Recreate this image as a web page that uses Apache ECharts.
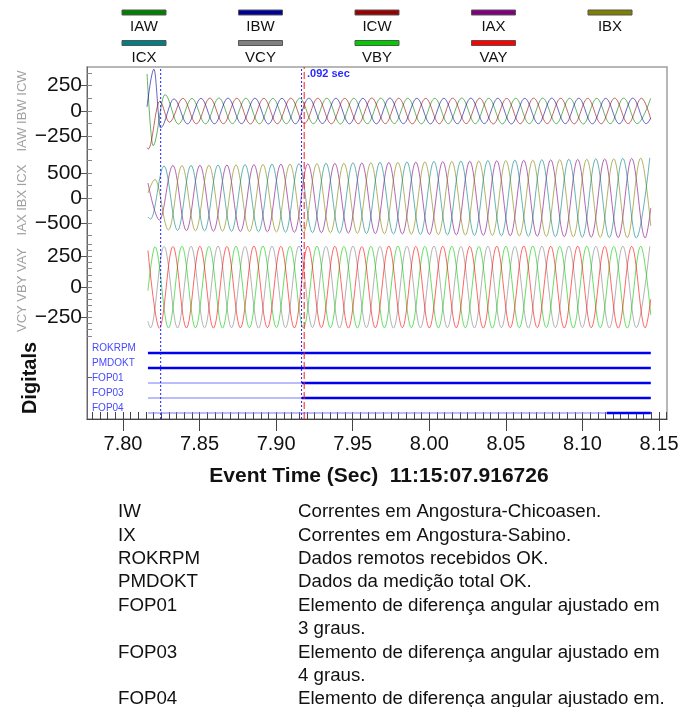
<!DOCTYPE html>
<html>
<head>
<meta charset="utf-8">
<script src="https://cdn.jsdelivr.net/npm/echarts@6/dist/echarts.min.js"></script>
<style>
html, body { margin: 0; padding: 0; background: #fff; }
#chart { width: 691px; height: 707px; }
</style>
</head>
<body>
<div id="chart"></div>
<script>
// time axis (sec)
var T_MIN = 7.7765, T_MAX = 8.1552;
var T_START = 7.8163, T_END = 8.1446;
var HALF = 0.00881;               // half cycle, time between two extremes
var xTicks = [7.80, 7.85, 7.90, 7.95, 8.00, 8.05, 8.10, 8.15];
var cursorTimes = [7.8246, 7.9166];
var eventTime = 7.9183;

var legendNames = ['IAW', 'IBW', 'ICW', 'IAX', 'IBX', 'ICX', 'VCY', 'VBY', 'VAY'];
var legendColors = ['#008000', '#000099', '#990000', '#800080', '#808000', '#008080', '#808080', '#00cc00', '#ff0000'];

var panelNames = ['IAW IBW ICW', 'IAX IBX ICX', 'VCY VBY VAY'];
var panelLabels = [[-250, 0, 250], [-500, 0, 500], [-250, 0, 250]];
var panelMinorStep = [125, 250, 50];

// IAW / IBW / ICW  (Angostura-Chicoasen)
var iawStart = [[7.8157, 363], [7.8196, -340]];
var iawT0 = 7.8274;
var iawExt = [160, -128, 122, -125, 127, -124, 125, -126, 123, -125,
  126, -124, 125, -127, 124, -125, 126, -123, 125, -126,
  124, -125, 127, -124, 125, -126, 124, -125, 126, -124,
  125, -127, 124, -125, 126, -124, 125];

var ibwStart = [[7.8157, 40], [7.8202, 410]];
var ibwT0 = 7.8245;
var ibwExt = [-165, 118, -126, 124, -125, 126, -124, 125, -127, 124,
  -125, 126, -123, 125, -126, 124, -125, 127, -124, 125,
  -126, 124, -125, 126, -124, 125, -127, 124, -125, 126,
  -124, 125, -126, 124, -125, 126, -125];
var ibwEnd = -70;

var icwStart = [[7.8157, -360], [7.8165, -373], [7.8240, 95]];
var icwT0 = 7.8303;
var icwExt = [-110, 124, -125, 126, -124, 125, -127, 124, -125, 126,
  -123, 125, -126, 124, -125, 127, -124, 125, -126, 124,
  -125, 126, -124, 125, -127, 124, -125, 126, -124, 125,
  -126, 124, -125, 126, -124, 125];
var icwEnd = -80;

// IAX / IBX / ICX  (Angostura-Sabino)
var iaxStart = [[7.8163, 300]];
var iaxT0 = 7.8238;
var iaxExt = [-440, 650, -652, 655, -662, 660, -670, 668, -677, 676,
  -685, 684, -694, 692, -702, 701, -711, 710, -720, 719,
  -729, 728, -738, 737, -747, 746, -756, 755, -765, 764,
  -774, 773, -783, 782, -792, 791, -800];
var iaxEnd = -200;

var ibxStart = [[7.8163, 100]];
var ibxT0 = 7.8209;
var ibxExt = [370, -640, 648, -656, 655, -664, 662, -671, 670, -679,
  678, -688, 687, -696, 695, -705, 704, -714, 713, -723,
  722, -732, 731, -741, 740, -750, 749, -759, 758, -768,
  767, -777, 776, -786, 785, -795, 800];
var ibxEnd = -560;

var icxStart = [[7.8163, -380]];
var icxT0 = 7.8180;
var icxExt = [-420, 640, -648, 652, -657, 660, -666, 668, -675, 677,
  -684, 686, -693, 695, -702, 704, -711, 713, -720, 722,
  -729, 731, -738, 740, -747, 749, -756, 758, -765, 767,
  -774, 776, -783, 785, -792, 794, -801, 805];

// VCY / VBY / VAY
var vcyStart = [[7.8163, -280]];
var vcyT0 = 7.8180;
var vcyExt = [-335, 333, -336, 334, -335, 336, -334, 333, -337, 335,
  -334, 336, -333, 334, -336, 335, -334, 333, -337, 334,
  -335, 336, -334, 333, -336, 335, -334, 333, -337, 335,
  -334, 336, -333, 334, -336, 335, -334, 333];

var vbyStart = [[7.8163, -30]];
var vbyT0 = 7.8209;
var vbyExt = [330, -336, 334, -335, 333, -337, 335, -334, 336, -333,
  334, -336, 335, -334, 333, -337, 334, -335, 336, -334,
  333, -336, 334, -335, 333, -337, 335, -334, 336, -333,
  334, -336, 335, -334, 333, -337, 334];
var vbyEnd = -230;

var vayStart = [[7.8163, 300]];
var vayT0 = 7.8238;
var vayExt = [-338, 332, -336, 334, -337, 333, -335, 336, -334, 333,
  -336, 335, -333, 334, -337, 332, -335, 336, -334, 333,
  -336, 334, -335, 333, -337, 335, -334, 336, -333, 334,
  -336, 335, -334, 333, -337, 334, -335];
var vayEnd = -100;

// digital channels: time span where the bit is set
var digitalNames = ['ROKRPM', 'PMDOKT', 'FOP01', 'FOP03', 'FOP04'];
var digitalOn = [[7.8163, 8.1446], [7.8163, 8.1446], [7.9168, 8.1446], [7.9168, 8.1446], [8.1159, 8.1446]];

var noteKeys = ['IW', 'IX', 'ROKRPM', 'PMDOKT', 'FOP01', 'FOP03', 'FOP04'];
var noteTexts = [
  'Correntes em Angostura-Chicoasen.',
  'Correntes em Angostura-Sabino.',
  'Dados remotos recebidos OK.',
  'Dados da medição total OK.',
  'Elemento de diferença angular ajustado em\n3 graus.',
  'Elemento de diferença angular ajustado em\n4 graus.',
  'Elemento de diferença angular ajustado em.'
];

// ---------------------------------------------------------------
var FONT = '"Liberation Sans", Arial, sans-serif';
var plotLeft = 87, plotRight = 24;
var bands = [[67, 150], [150, 243], [243, 340], [340, 419]];
var ranges = [[-382.4, 431.4], [-900, 960], [-434.4, 360.7], [-0.4, 4.867]];

function wave(start, t0, ext, end) {
  var pts = start.slice();
  ext.forEach(function (v, k) { pts.push([t0 + k * HALF, v]); });
  if (end != null) pts.push([T_END, end]);
  return pts;
}

var waves = [
  { name: 'IAW', panel: 0, data: wave(iawStart, iawT0, iawExt) },
  { name: 'IBW', panel: 0, data: wave(ibwStart, ibwT0, ibwExt, ibwEnd) },
  { name: 'ICW', panel: 0, data: wave(icwStart, icwT0, icwExt, icwEnd) },
  { name: 'IAX', panel: 1, data: wave(iaxStart, iaxT0, iaxExt, iaxEnd) },
  { name: 'IBX', panel: 1, data: wave(ibxStart, ibxT0, ibxExt, ibxEnd) },
  { name: 'ICX', panel: 1, data: wave(icxStart, icxT0, icxExt) },
  { name: 'VCY', panel: 2, data: wave(vcyStart, vcyT0, vcyExt) },
  { name: 'VBY', panel: 2, data: wave(vbyStart, vbyT0, vbyExt, vbyEnd) },
  { name: 'VAY', panel: 2, data: wave(vayStart, vayT0, vayExt, vayEnd) }
];

function steps(lo, hi, step) {
  var out = [];
  for (var v = Math.ceil(lo / step) * step; v <= hi + 1e-9; v += step) out.push(+v.toFixed(4));
  return out;
}

var grids = [], xAxes = [], yAxes = [], series = [];

bands.forEach(function (b) {
  grids.push({ left: plotLeft, right: plotRight, top: b[0], height: b[1] - b[0], outerBoundsMode: 'none' });
  xAxes.push({ type: 'value', gridIndex: grids.length - 1, min: T_MIN, max: T_MAX, show: false });
});
// frame grid carrying the time axis, the border and the cursors
grids.push({ left: plotLeft, right: plotRight, top: bands[0][0], height: bands[3][1] - bands[0][0],
  show: true, borderColor: '#a0a0a0', borderWidth: 1.5, outerBoundsMode: 'none' });

xAxes.push({
  type: 'value', gridIndex: 4, min: T_MIN, max: T_MAX, position: 'bottom',
  axisLine: { lineStyle: { color: '#444', width: 1 } },
  axisTick: { customValues: xTicks, length: 12, lineStyle: { color: '#444' } },
  axisLabel: { customValues: xTicks, formatter: function (v) { return v.toFixed(2); },
    fontSize: 20, fontFamily: FONT, color: '#111', margin: 15 },
  splitLine: { show: false }
});
xAxes.push({
  type: 'value', gridIndex: 4, min: T_MIN, max: T_MAX, position: 'bottom',
  axisLine: { show: false },
  axisTick: { customValues: steps(7.78, T_MAX, 0.005), inside: true, length: 7, lineStyle: { color: '#444' } },
  axisLabel: { show: false }, splitLine: { show: false }
});

[0, 1, 2].forEach(function (p) {
  var r = ranges[p];
  yAxes.push({
    type: 'value', gridIndex: p, min: r[0], max: r[1], position: 'left',
    axisLine: { show: false },
    axisTick: { customValues: panelLabels[p], length: 6, lineStyle: { color: '#555' } },
    axisLabel: { customValues: panelLabels[p], fontSize: 21, fontFamily: FONT, color: '#111', margin: 5,
      formatter: function (v) { return String(v).replace('-', '\u2212'); } },
    splitLine: { show: false }
  });
  yAxes.push({
    type: 'value', gridIndex: p, min: r[0], max: r[1], position: 'left',
    axisLine: { show: false },
    axisTick: { customValues: steps(r[0], r[1], panelMinorStep[p]), inside: true, length: 5, lineStyle: { color: '#888' } },
    axisLabel: { show: false }, splitLine: { show: false }
  });
});
yAxes.push({
  type: 'value', gridIndex: 3, min: ranges[3][0], max: ranges[3][1], position: 'left',
  axisLine: { show: false },
  axisTick: { customValues: [2.4], inside: true, length: 5, lineStyle: { color: '#666' } },
  axisLabel: { customValues: [0, 1, 2, 3, 4], inside: true, verticalAlign: 'bottom', margin: 5,
    fontSize: 10, fontFamily: FONT, color: '#4848ff',
    formatter: function (v) { return digitalNames[4 - Math.round(v)]; } },
  splitLine: { show: false }
});
yAxes.push({
  type: 'value', gridIndex: 4, min: 0, max: 1, position: 'left',
  axisLine: { show: true, lineStyle: { color: '#666', width: 1 } },
  axisTick: { show: false }, axisLabel: { show: false }, splitLine: { show: false }
});

waves.forEach(function (w) {
  var i = legendNames.indexOf(w.name);
  series.push({
    type: 'line', name: w.name, xAxisIndex: w.panel, yAxisIndex: w.panel * 2,
    data: w.data, symbol: 'none', showSymbol: false, smooth: 0.364, smoothMonotone: 'x',
    lineStyle: { color: legendColors[i], width: 1, opacity: 0.6 }, silent: true
  });
});

digitalNames.forEach(function (n, i) {
  var row = 4 - i;
  series.push({
    type: 'line', name: n + ' off', xAxisIndex: 3, yAxisIndex: 6,
    data: [[T_START, row], [T_END, row]], symbol: 'none',
    lineStyle: { color: '#7878ff', width: 1 }, silent: true
  });
  series.push({
    type: 'line', name: n, xAxisIndex: 3, yAxisIndex: 6,
    data: [[digitalOn[i][0], row], [digitalOn[i][1], row]], symbol: 'none',
    lineStyle: { color: '#0000f0', width: 2.5 }, silent: true
  });
});

// vertical cursors spanning the whole plot (frame grid, y from 0 to 1)
function cursorSeries(t, color, type) {
  return {
    type: 'line', xAxisIndex: 4, yAxisIndex: 7, data: [[t, 0], [t, 1]], symbol: 'none',
    silent: true, z: 5, lineStyle: { color: color, type: type, width: 1 }
  };
}
cursorTimes.forEach(function (t) { series.push(cursorSeries(t, '#2020ff', [2, 2])); });
series.push(cursorSeries(eventTime, '#ff1a1a', [7, 3]));

// legend, titles, notes
var graphic = [];
var legendX = [144, 260.5, 377, 493.5, 610];
legendNames.forEach(function (n, i) {
  var cx = legendX[i % 5], row = Math.floor(i / 5);
  graphic.push({ type: 'rect', shape: { x: cx - 22, y: 10 + row * 30.5, width: 44, height: 5 },
    style: { fill: legendColors[i], stroke: '#555', lineWidth: 1 } });
  graphic.push({ type: 'text', x: cx, y: 27 + row * 31,
    style: { text: n, fill: '#111', font: '15px ' + FONT, textAlign: 'center', textVerticalAlign: 'middle' } });
});
var panelCenters = [111, 200, 290];
panelNames.forEach(function (n, p) {
  graphic.push({ type: 'text', x: 22, y: panelCenters[p], rotation: Math.PI / 2,
    style: { text: n, fill: '#a0a0a0', font: '13px ' + FONT, textAlign: 'center', textVerticalAlign: 'middle' } });
});
graphic.push({ type: 'text', x: 30, y: 378, rotation: Math.PI / 2,
  style: { text: 'Digitals', fill: '#111', font: 'bold 20px ' + FONT, textAlign: 'center', textVerticalAlign: 'middle' } });
graphic.push({ type: 'text', x: 379, y: 476,
  style: { text: 'Event Time (Sec)  11:15:07.916726', fill: '#111', font: 'bold 21px ' + FONT,
    textAlign: 'center', textVerticalAlign: 'middle' } });
graphic.push({ type: 'text', x: 307, y: 74, z: 10,
  style: { text: (cursorTimes[1] - cursorTimes[0]).toFixed(3).replace(/^0/, '') + ' sec',
    fill: '#2a2aff', font: 'bold 11px ' + FONT, textAlign: 'left', textVerticalAlign: 'middle' } });

var line = 0, rowPitch = 23.4, rowTop = 512;
noteKeys.forEach(function (k, i) {
  graphic.push({ type: 'text', x: 118, y: rowTop + line * rowPitch,
    style: { text: k, fill: '#111', font: '18.7px ' + FONT, textVerticalAlign: 'middle' } });
  noteTexts[i].split('\n').forEach(function (t) {
    graphic.push({ type: 'text', x: 298, y: rowTop + line * rowPitch,
      style: { text: t, fill: '#111', font: '18.7px ' + FONT, textVerticalAlign: 'middle' } });
    line++;
  });
});

var chart = echarts.init(document.getElementById('chart'), null, { renderer: 'canvas' });
chart.setOption({
  backgroundColor: '#fff',
  animation: false,
  grid: grids,
  xAxis: xAxes,
  yAxis: yAxes,
  series: series,
  graphic: graphic
});
</script>
</body>
</html>
